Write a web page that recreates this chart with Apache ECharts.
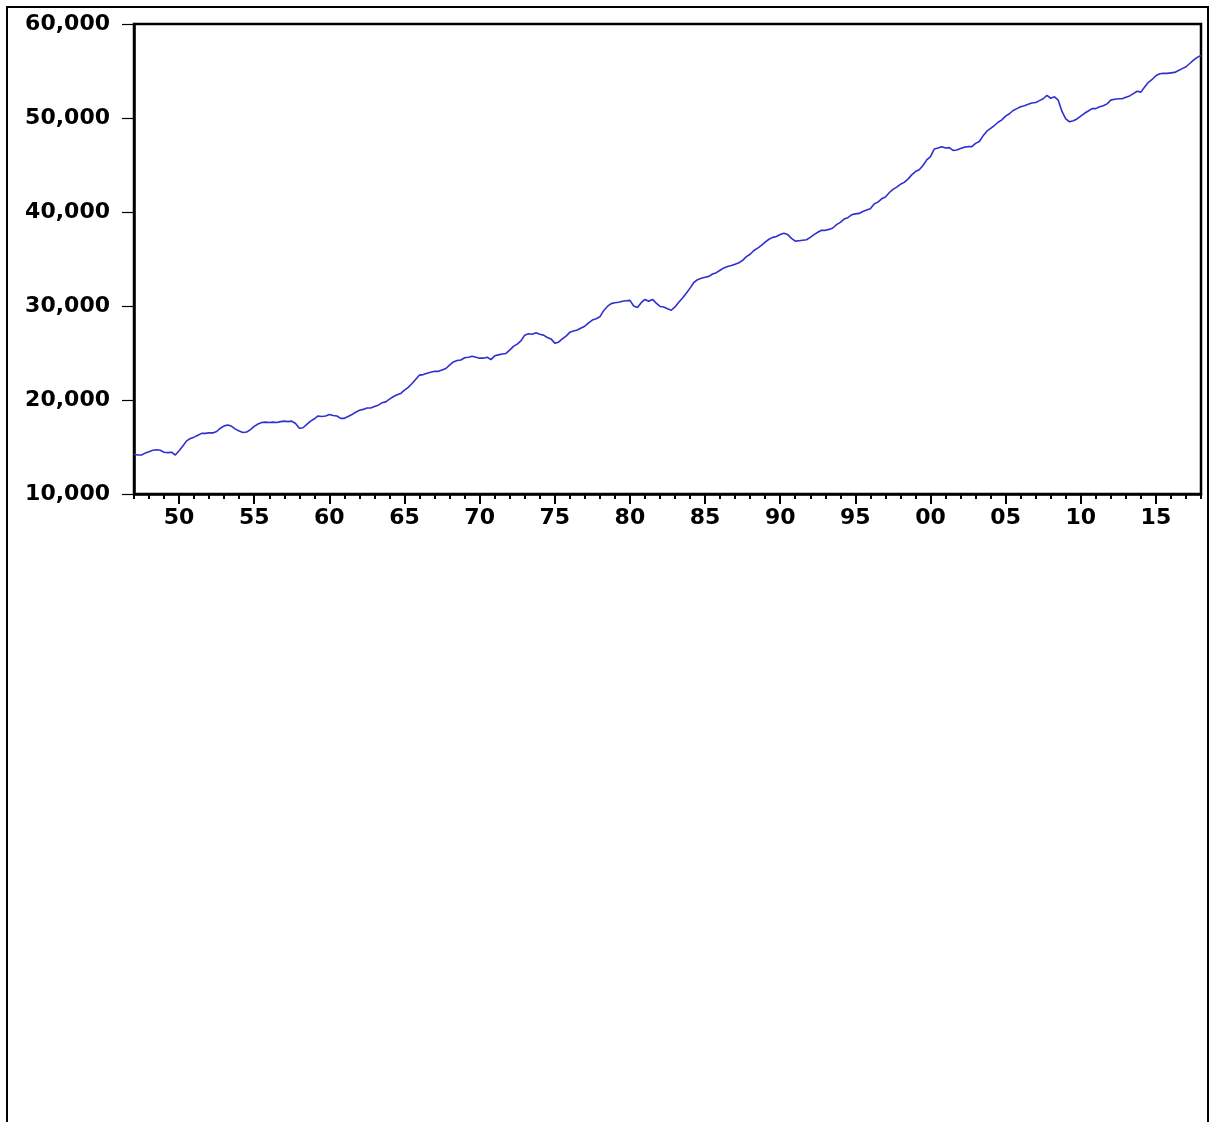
<!DOCTYPE html>
<html>
<head>
<meta charset="utf-8">
<title>Real GDP per capita</title>
<script src="https://cdn.jsdelivr.net/npm/echarts@6/dist/echarts.min.js"></script>
<style>
  html, body { margin: 0; padding: 0; background: #ffffff; }
  #chart { width: 1209px; height: 1122px; }
</style>
</head>
<body>
<div id="chart"></div>
<script>
// Quarterly series, 1947Q1 .. 2018Q1 (four values per year)
var startYear = 1947;
var endYear = 2018;

var values1940s = [
  14220, 14150, 14150, 14350,   // 1947
  14500, 14650, 14700, 14650,   // 1948
  14450, 14400, 14450, 14150    // 1949
];
var values1950s = [
  14600, 15100, 15650, 15900,   // 1950
  16050, 16250, 16450, 16450,   // 1951
  16500, 16500, 16650, 17000,   // 1952
  17250, 17350, 17200, 16900,   // 1953
  16700, 16550, 16600, 16850,   // 1954
  17200, 17450, 17600, 17650,   // 1955
  17600, 17650, 17600, 17700,   // 1956
  17750, 17700, 17750, 17500,   // 1957
  17000, 17050, 17400, 17750,   // 1958
  18000, 18300, 18250, 18300    // 1959
];
var values1960s = [
  18450, 18350, 18300, 18050,   // 1960
  18050, 18250, 18450, 18700,   // 1961
  18900, 19000, 19150, 19150,   // 1962
  19300, 19450, 19700, 19800,   // 1963
  20100, 20350, 20550, 20700,   // 1964
  21050, 21350, 21750, 22200,   // 1965
  22650, 22700, 22850, 22950,   // 1966
  23050, 23050, 23200, 23350,   // 1967
  23700, 24050, 24200, 24250,   // 1968
  24500, 24550, 24650, 24550    // 1969
];
var values1970s = [
  24450, 24450, 24550, 24300,   // 1970
  24700, 24800, 24900, 24950,   // 1971
  25300, 25700, 25950, 26300,   // 1972
  26900, 27050, 27000, 27150,   // 1973
  27000, 26900, 26650, 26500,   // 1974
  26050, 26150, 26500, 26800,   // 1975
  27200, 27350, 27450, 27650,   // 1976
  27850, 28200, 28500, 28650,   // 1977
  28850, 29500, 29950, 30250,   // 1978
  30350, 30400, 30500, 30550    // 1979
];
var values1980s = [
  30600, 30000, 29850, 30350,   // 1980
  30700, 30500, 30700, 30300,   // 1981
  29950, 29900, 29700, 29550,   // 1982
  29900, 30400, 30850, 31350,   // 1983
  31900, 32500, 32800, 32950,   // 1984
  33050, 33150, 33400, 33550,   // 1985
  33800, 34050, 34200, 34300,   // 1986
  34450, 34600, 34850, 35250,   // 1987
  35500, 35900, 36150, 36450,   // 1988
  36800, 37100, 37300, 37400    // 1989
];
var values1990s = [
  37600, 37750, 37600, 37200,   // 1990
  36900, 36950, 37000, 37050,   // 1991
  37300, 37600, 37850, 38050,   // 1992
  38050, 38150, 38300, 38650,   // 1993
  38900, 39250, 39400, 39700,   // 1994
  39800, 39850, 40050, 40200,   // 1995
  40350, 40850, 41050, 41400,   // 1996
  41600, 42050, 42400, 42650,   // 1997
  42950, 43150, 43500, 43950,   // 1998
  44300, 44500, 44950, 45550    // 1999
];
var values2000s = [
  45900, 46700, 46800, 46950,   // 2000
  46800, 46850, 46550, 46600,   // 2001
  46750, 46900, 46950, 46950,   // 2002
  47300, 47500, 48100, 48600,   // 2003
  48900, 49200, 49550, 49800,   // 2004
  50200, 50450, 50800, 51000,   // 2005
  51200, 51300, 51450, 51600,   // 2006
  51650, 51850, 52050, 52400,   // 2007
  52100, 52250, 51900, 50700,   // 2008
  49900, 49600, 49700, 49900    // 2009
];
var values2010s = [
  50200, 50500, 50750, 51000,   // 2010
  51000, 51200, 51300, 51500,   // 2011
  51900, 52000, 52050, 52050,   // 2012
  52200, 52350, 52600, 52850,   // 2013
  52750, 53300, 53800, 54100,   // 2014
  54500, 54700, 54750, 54750,   // 2015
  54800, 54850, 55050, 55250,   // 2016
  55450, 55800, 56150, 56450,   // 2017
  56650                         // 2018
];

var yTicks = [10000, 20000, 30000, 40000, 50000, 60000];

var values = [].concat(values1940s, values1950s, values1960s, values1970s,
                       values1980s, values1990s, values2000s, values2010s);

// One category per quarter
var quarters = [];
for (var y = startYear; y <= endYear; y++) {
  for (var q = 1; q <= 4; q++) {
    if (quarters.length < values.length) quarters.push(y + 'Q' + q);
  }
}

function isYearStart(index, value) {
  return /Q1$/.test(value);
}
function isFifthYear(index, value) {
  return /Q1$/.test(value) && parseInt(value.slice(0, 4), 10) % 5 === 0;
}
function withCommas(v) {
  return String(v).replace(/\B(?=(\d{3})+(?!\d))/g, ',');
}

var labelFont = {
  color: '#000000',
  fontFamily: 'DejaVu Sans',
  fontWeight: 'bold',
  fontSize: 22
};

var chart = echarts.init(document.getElementById('chart'), null, { renderer: 'canvas' });

chart.setOption({
  backgroundColor: '#ffffff',
  animation: false,
  grid: {
    left: 134,
    top: 24,
    right: 8,
    bottom: 628,
    show: true,
    borderColor: '#000000',
    borderWidth: 2.5,
    backgroundColor: '#ffffff'
  },
  xAxis: [
    {
      // yearly minor ticks
      type: 'category',
      data: quarters,
      boundaryGap: false,
      axisLine: { show: true, lineStyle: { color: '#000000', width: 2.5 } },
      axisTick: { show: true, length: 5, interval: isYearStart, lineStyle: { color: '#000000', width: 2 } },
      axisLabel: { show: false },
      splitLine: { show: false }
    },
    {
      // five-year major ticks with two-digit labels
      type: 'category',
      data: quarters,
      boundaryGap: false,
      position: 'bottom',
      axisLine: { show: false },
      axisTick: { show: true, length: 10, interval: isFifthYear, lineStyle: { color: '#000000', width: 2 } },
      axisLabel: Object.assign({
        interval: isFifthYear,
        margin: 13,
        formatter: function (v) { return v.slice(2, 4); }
      }, labelFont),
      splitLine: { show: false }
    }
  ],
  yAxis: {
    type: 'value',
    min: yTicks[0],
    max: yTicks[yTicks.length - 1],
    interval: yTicks[1] - yTicks[0],
    axisLine: { show: true, lineStyle: { color: '#000000', width: 2.5 } },
    axisTick: { show: true, inside: false, length: 12, lineStyle: { color: '#000000', width: 1.2 } },
    axisLabel: Object.assign({
      margin: 24,
      padding: [0, 0, 9, 0],
      formatter: withCommas
    }, labelFont),
    splitLine: { show: false }
  },
  series: [
    {
      type: 'line',
      xAxisIndex: 0,
      data: values,
      showSymbol: false,
      symbol: 'none',
      lineStyle: { color: '#3030d0', width: 1.6 },
      emphasis: { disabled: true }
    }
  ],
  graphic: [
    {
      // outer frame (top, left and right edges)
      type: 'polyline',
      silent: true,
      shape: { points: [[7, 1122], [7, 7], [1208, 7], [1208, 1122]] },
      style: { stroke: '#000000', lineWidth: 2, fill: null }
    }
  ]
});
</script>
</body>
</html>
